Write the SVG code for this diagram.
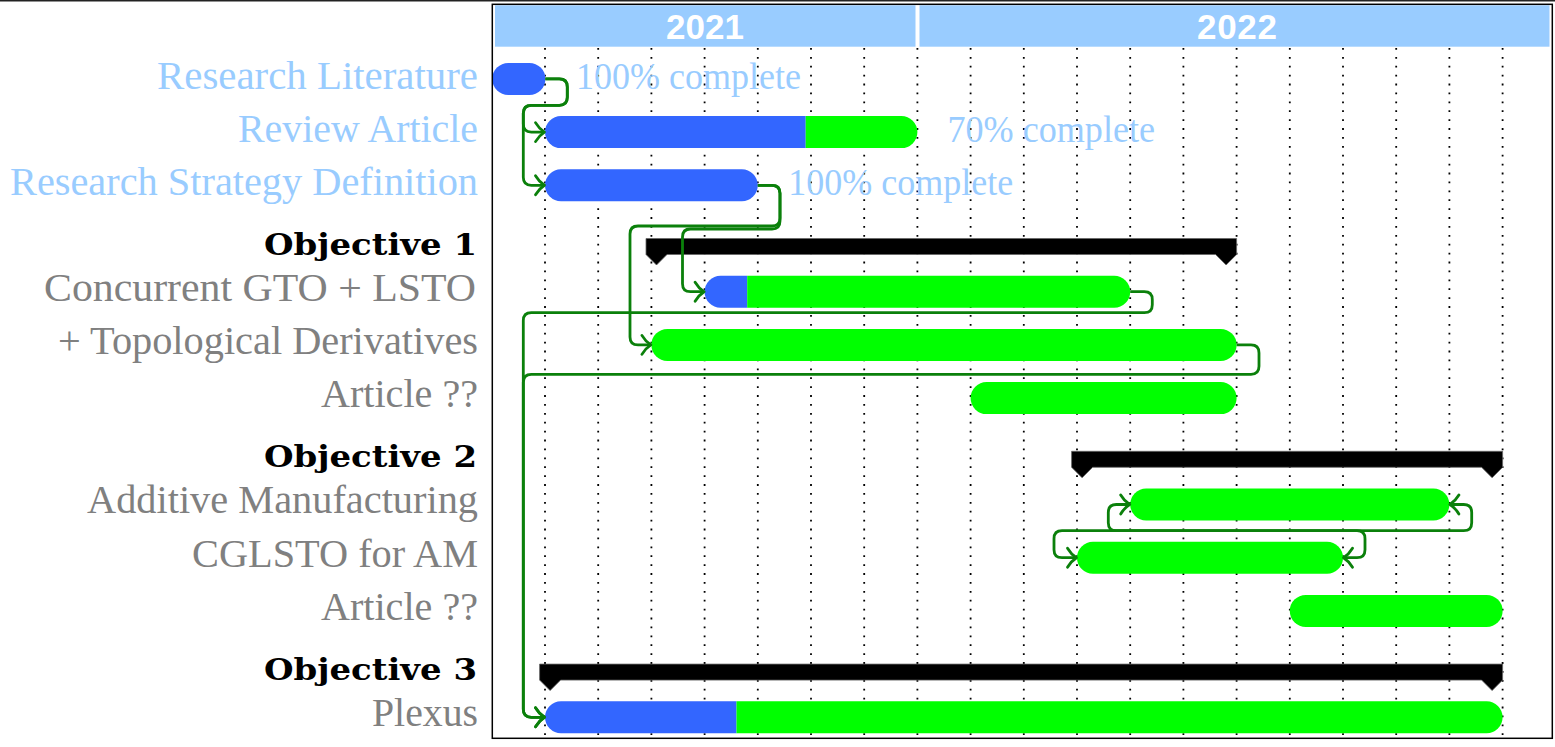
<svg xmlns="http://www.w3.org/2000/svg" width="1555" height="747" viewBox="0 0 1555 747">
<style>
.lbl{font-family:"Liberation Serif","Times New Roman",serif;font-size:39px;text-anchor:end}
.blue{fill:#99CCFF}
.gray{fill:#808080}
.obj{font-family:"DejaVu Serif","Liberation Serif",serif;font-weight:bold;font-size:30px;fill:#000;text-anchor:end}
.pct{font-family:"Liberation Serif","Times New Roman",serif;font-size:38px;fill:#99CCFF}
.yr{font-family:"Liberation Sans",Arial,sans-serif;font-weight:bold;font-size:35px;fill:#fff;text-anchor:middle}
.grid{stroke:#000;stroke-width:1.8;stroke-dasharray:1.8 7.1;fill:none}
.bb{fill:#3366FF}
.bg{fill:#00FF00}
.group{fill:#000;stroke:#666;stroke-width:0.8}
.link{fill:none;stroke:#0B800B;stroke-width:2.8;stroke-linejoin:round}
.l1{marker-end:url(#ah)}
.l2{marker-start:url(#ah);marker-end:url(#ah)}
</style>
<defs>
<marker id="ah" viewBox="-14 -14 16 28" markerWidth="16" markerHeight="28" refX="0" refY="0" orient="auto-start-reverse" markerUnits="userSpaceOnUse">
<path d="M-9,-9.5 Q-5.5,-3.5 0,0 Q-5.5,3.5 -9,9.5" fill="none" stroke="#0B800B" stroke-width="2.8" stroke-linecap="round" stroke-linejoin="round"/>
</marker>
</defs>
<rect width="1555" height="747" fill="#fff"/>
<line x1="0" y1="0.75" x2="1555" y2="0.75" stroke="#222" stroke-width="1.5"/>

<g id="header">
<rect x="495" y="5.3" width="420.5" height="41.4" fill="#99CCFF"/>
<rect x="919.5" y="5.3" width="630" height="41.4" fill="#99CCFF"/>
<text class="yr" x="705" y="39.3" textLength="78">2021</text>
<text class="yr" x="1237" y="39.3" textLength="80">2022</text>
</g>

<g id="grid">
<path class="grid" d="M545,48V738 M598.2,48V738 M651.4,48V738 M704.6,48V738 M757.8,48V738 M811,48V738 M864.2,48V738 M917.4,48V738 M970.6,48V738 M1023.8,48V738 M1077,48V738 M1130.2,48V738 M1183.4,48V738 M1236.6,48V738 M1289.8,48V738 M1343,48V738 M1396.2,48V738 M1449.4,48V738 M1502.6,48V738"/>
</g>

<g id="labels">
<text class="lbl blue" font-family="Liberation Serif" x="478" y="88.8" textLength="321" lengthAdjust="spacingAndGlyphs">Research Literature</text>
<text class="lbl blue" font-family="Liberation Serif" x="478" y="141.8" textLength="240" lengthAdjust="spacingAndGlyphs">Review Article</text>
<text class="lbl blue" font-family="Liberation Serif" x="478" y="194.8" textLength="468" lengthAdjust="spacingAndGlyphs">Research Strategy Definition</text>
<text class="obj" x="477" y="255" textLength="213" lengthAdjust="spacingAndGlyphs">Objective 1</text>
<text class="lbl gray" font-family="Liberation Serif" x="476" y="301" textLength="432" lengthAdjust="spacingAndGlyphs">Concurrent GTO + LSTO</text>
<text class="lbl gray" font-family="Liberation Serif" x="478" y="354" textLength="420" lengthAdjust="spacingAndGlyphs">+ Topological Derivatives</text>
<text class="lbl gray" font-family="Liberation Serif" x="478" y="406.8" textLength="157" lengthAdjust="spacingAndGlyphs">Article ??</text>
<text class="obj" x="477" y="467" textLength="213" lengthAdjust="spacingAndGlyphs">Objective 2</text>
<text class="lbl gray" font-family="Liberation Serif" x="478" y="513" textLength="391" lengthAdjust="spacingAndGlyphs">Additive Manufacturing</text>
<text class="lbl gray" font-family="Liberation Serif" x="478" y="566.8" textLength="286" lengthAdjust="spacingAndGlyphs">CGLSTO for AM</text>
<text class="lbl gray" font-family="Liberation Serif" x="478" y="619.8" textLength="157" lengthAdjust="spacingAndGlyphs">Article ??</text>
<text class="obj" x="477" y="679.5" textLength="213" lengthAdjust="spacingAndGlyphs">Objective 3</text>
<text class="lbl gray" font-family="Liberation Serif" x="478" y="726.3" textLength="106" lengthAdjust="spacingAndGlyphs">Plexus</text>
</g>

<g id="task-research-literature">
<rect class="bb" x="492.3" y="62.9" width="53.1" height="32" rx="16"/>
<text class="pct" x="576" y="88.8" textLength="225" lengthAdjust="spacingAndGlyphs">100% complete</text>
</g>
<g id="task-review-article">
<path class="bb" d="M561,116.1 H805.7 V148.1 H561 A16,16 0 0 1 561,116.1Z"/>
<path class="bg" d="M805.7,116.1 H901.4 A16,16 0 0 1 901.4,148.1 H805.7Z"/>
<text class="pct" x="947.5" y="142" textLength="207.5" lengthAdjust="spacingAndGlyphs">70% complete</text>
</g>
<g id="task-research-strategy">
<rect class="bb" x="545" y="169.3" width="212.8" height="32" rx="16"/>
<text class="pct" x="788.3" y="194.8" textLength="225" lengthAdjust="spacingAndGlyphs">100% complete</text>
</g>
<g id="objective-1">
<polygon class="group" points="646,238.5 1236.6,238.5 1236.6,254.5 1226.1,265 1215.6,254.5 667,254.5 656.5,265 646,254.5"/>
</g>
<g id="task-concurrent">
<path class="bb" d="M720.6,275.7 H747.2 V307.7 H720.6 A16,16 0 0 1 720.6,275.7Z"/>
<path class="bg" d="M747.2,275.7 H1114.2 A16,16 0 0 1 1114.2,307.7 H747.2Z"/>
</g>
<g id="task-topological">
<rect class="bg" x="651.4" y="328.9" width="585.2" height="32" rx="16"/>
</g>
<g id="task-article-1">
<rect class="bg" x="970.6" y="382.1" width="266" height="32" rx="16"/>
</g>
<g id="objective-2">
<polygon class="group" points="1071.6,451.3 1502.6,451.3 1502.6,467.3 1492.1,477.8 1481.6,467.3 1092.6,467.3 1082.1,477.8 1071.6,467.3"/>
</g>
<g id="task-additive">
<rect class="bg" x="1130.2" y="488.5" width="319.2" height="32" rx="16"/>
</g>
<g id="task-cglsto">
<rect class="bg" x="1077" y="541.7" width="266" height="32" rx="16"/>
</g>
<g id="task-article-2">
<rect class="bg" x="1289.8" y="594.9" width="212.8" height="32" rx="16"/>
</g>
<g id="objective-3">
<polygon class="group" points="539.6,664.1 1502.6,664.1 1502.6,680.1 1492.1,690.6 1481.6,680.1 560.6,680.1 550.1,690.6 539.6,680.1"/>
</g>
<g id="task-plexus">
<path class="bb" d="M561,701.3 H736.5 V733.3 H561 A16,16 0 0 1 561,701.3Z"/>
<path class="bg" d="M736.5,701.3 H1486.6 A16,16 0 0 1 1486.6,733.3 H736.5Z"/>
</g>

<g id="connectors">
<path class="link l1" d="M545.4,78.9 H559.3 Q567.3,78.9 567.3,86.9 V97.3 Q567.3,105.3 559.3,105.3 H531.3 Q523.3,105.3 523.3,113.3 V124.1 Q523.3,132.1 531.3,132.1 H544.5"/>
<path class="link l1" d="M545.4,78.9 H559.3 Q567.3,78.9 567.3,86.9 V97.3 Q567.3,105.3 559.3,105.3 H531.3 Q523.3,105.3 523.3,113.3 V177.3 Q523.3,185.3 531.3,185.3 H544.5"/>
<path class="link l1" d="M757.8,185.3 H772 Q780,185.3 780,193.3 V218 Q780,226 772,226 H638 Q630,226 630,234 V336.9 Q630,344.9 638,344.9 H650.9"/>
<path class="link l1" d="M757.8,185.3 H772 Q780,185.3 780,193.3 V221 Q780,229 772,229 H690.5 Q682.5,229 682.5,237 V283.7 Q682.5,291.7 690.5,291.7 H704.1"/>
<path class="link l1" d="M1130.2,291.7 H1144.3 Q1152.3,291.7 1152.3,299.7 V304.7 Q1152.3,312.7 1144.3,312.7 H531.3 Q523.3,312.7 523.3,320.7 V709.3 Q523.3,717.3 531.3,717.3 H544.5"/>
<path class="link l1" d="M1236.6,344.9 H1251 Q1259,344.9 1259,352.9 V366.3 Q1259,374.3 1251,374.3 H531.3 Q523.3,374.3 523.3,382.3 V709.3 Q523.3,717.3 531.3,717.3 H544.5"/>
<path class="link l2" d="M1449.9,504.5 H1463.7 Q1471.7,504.5 1471.7,512.5 V522.7 Q1471.7,530.7 1463.7,530.7 H1062 Q1054,530.7 1054,538.7 V549.7 Q1054,557.7 1062,557.7 H1076.5"/>
<path class="link l2" d="M1343.5,557.7 H1357 Q1365,557.7 1365,549.7 V538.7 Q1365,530.7 1357,530.7 H1116.3 Q1108.3,530.7 1108.3,522.7 V512.5 Q1108.3,504.5 1116.3,504.5 H1129.7"/>
</g>

<g id="frame">
<rect x="492.3" y="4.3" width="1060" height="734" fill="none" stroke="#000" stroke-width="1.5"/>
</g>
</svg>
